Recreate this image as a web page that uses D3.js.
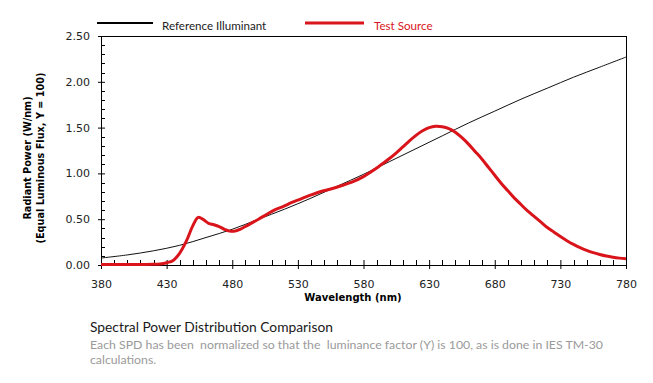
<!DOCTYPE html>
<html>
<head>
<meta charset="utf-8">
<script src="https://cdn.jsdelivr.net/npm/d3@7"></script>
<style>
  html, body { margin: 0; padding: 0; background: #fff; }
  svg { display: block; }
</style>
</head>
<body>
<div id="chart"></div>
<script>
  // reference illuminant
  const refWl  = [380, 400, 420, 440, 460, 480, 500, 520, 540, 560, 580, 600, 620, 640, 660, 680, 700, 720, 740, 760, 780];
  const refVal = [0.076, 0.11, 0.155, 0.215, 0.30, 0.39, 0.50, 0.61, 0.73, 0.86, 0.99, 1.13, 1.27, 1.41, 1.55, 1.68, 1.81, 1.93, 2.05, 2.16, 2.27];

  // test source
  const testWl  = [380, 400, 420, 425, 430, 435, 440, 445, 450, 454, 458, 462, 466, 470, 474, 478, 482, 486, 490, 495,
                   500, 506, 512, 519, 525, 532, 540, 547, 555, 563, 572, 580, 585, 590, 595, 600, 605, 610, 615, 620,
                   625, 630, 635, 640, 645, 650, 655, 660, 665, 670, 675, 680, 685, 690, 695, 700, 705, 710, 715, 720,
                   725, 730, 735, 740, 745, 750, 755, 760, 765, 770, 775, 780];
  const testVal = [0.005, 0.005, 0.008, 0.012, 0.025, 0.05, 0.13, 0.26, 0.43, 0.52, 0.495, 0.455, 0.44, 0.42, 0.39, 0.37, 0.37, 0.39, 0.42, 0.46,
                   0.50, 0.55, 0.60, 0.64, 0.68, 0.72, 0.765, 0.80, 0.83, 0.865, 0.91, 0.965, 1.01, 1.06, 1.11, 1.165, 1.225, 1.29, 1.355, 1.415,
                   1.465, 1.50, 1.515, 1.51, 1.49, 1.45, 1.39, 1.32, 1.24, 1.16, 1.07, 0.98, 0.89, 0.81, 0.73, 0.66, 0.59, 0.53, 0.47, 0.41,
                   0.36, 0.31, 0.265, 0.225, 0.19, 0.16, 0.135, 0.115, 0.098, 0.085, 0.075, 0.068];

  const xTicks = [380, 430, 480, 530, 580, 630, 680, 730, 780];
  const yTicks = [0, 0.5, 1, 1.5, 2, 2.5];
  const seriesNames = ["Reference Illuminant", "Test Source"];
  const captionTitle = "Spectral Power Distribution Comparison";
  const captionLines = ["Each SPD has been  normalized so that the  luminance factor (Y) is 100, as is done in IES TM-30", "calculations."];

  const W = 653, H = 383;
  const red = "#d9141b";
  const tickFont = "'DejaVu Sans', Verdana, sans-serif";
  const textFont = "Lato, 'Liberation Sans', sans-serif";

  const svg = d3.select("#chart").append("svg").attr("width", W).attr("height", H);

  const x = d3.scaleLinear().domain([380, 780]).range([101, 626]);
  const y = d3.scaleLinear().domain([0, 2.5]).range([265, 36]);

  // frame
  svg.append("rect")
    .attr("x", x(380)).attr("y", y(2.5))
    .attr("width", x(780) - x(380)).attr("height", y(0) - y(2.5))
    .attr("fill", "none").attr("stroke", "#000").attr("stroke-width", 1)
    .attr("shape-rendering", "crispEdges");

  // minor ticks (inside)
  const xMinor = d3.range(390, 780, 10).filter(v => !xTicks.includes(v));
  const yMinor = d3.range(0.1, 2.5, 0.1).filter(v => Math.abs(v * 2 - Math.round(v * 2)) > 1e-6);

  svg.append("g").selectAll("line").data(xMinor).join("line")
    .attr("x1", d => Math.round(x(d)) + 0.5).attr("x2", d => Math.round(x(d)) + 0.5)
    .attr("y1", y(0)).attr("y2", y(0) - 5)
    .attr("stroke", "#000");
  svg.append("g").selectAll("line").data(yMinor).join("line")
    .attr("x1", x(380)).attr("x2", x(380) + 4)
    .attr("y1", d => Math.round(y(d)) + 0.5).attr("y2", d => Math.round(y(d)) + 0.5)
    .attr("stroke", "#000");

  // major axes
  const xAxis = svg.append("g")
    .attr("transform", `translate(0,${y(0)})`)
    .call(d3.axisBottom(x).tickValues(xTicks).tickFormat(d3.format("d")).tickSize(4).tickPadding(11));
  xAxis.select(".domain").remove();
  xAxis.selectAll(".tick line").attr("y1", -5);
  xAxis.selectAll("text").attr("font-family", tickFont).attr("font-size", 11).attr("fill", "#222");

  const yAxis = svg.append("g")
    .attr("transform", `translate(${x(380)},0)`)
    .call(d3.axisLeft(y).tickValues(yTicks).tickFormat(d3.format(".2f")).tickSize(3).tickPadding(8));
  yAxis.select(".domain").remove();
  yAxis.selectAll(".tick line").attr("x1", 4);
  yAxis.selectAll("text").attr("font-family", tickFont).attr("font-size", 11).attr("fill", "#222");

  // curves
  const line = d3.line().x(d => x(d[0])).y(d => y(d[1])).curve(d3.curveCatmullRom.alpha(0.5));

  svg.append("path")
    .datum(refWl.map((w, i) => [w, refVal[i]]))
    .attr("d", line)
    .attr("fill", "none").attr("stroke", "#111").attr("stroke-width", 1);

  svg.append("path")
    .datum(testWl.map((w, i) => [w, testVal[i]]))
    .attr("d", line)
    .attr("fill", "none").attr("stroke", red).attr("stroke-width", 3)
    .attr("stroke-linejoin", "round");

  // axis titles
  svg.append("text")
    .attr("x", 353).attr("y", 301)
    .attr("text-anchor", "middle")
    .attr("font-family", tickFont).attr("font-size", 10).attr("font-weight", "bold")
    .text("Wavelength (nm)");

  const yTitle = svg.append("g").attr("transform", "translate(0,158) rotate(-90)")
    .attr("font-family", tickFont).attr("font-size", 9.7).attr("font-weight", "bold")
    .attr("text-anchor", "middle");
  yTitle.append("text").attr("x", 0).attr("y", 30.5).text("Radiant  Power (W/nm)");
  yTitle.append("text").attr("x", 0).attr("y", 43.5).text("(Equal Luminous Flux, Y = 100)");

  // legend
  const legend = svg.append("g");
  legend.append("line").attr("x1", 97).attr("x2", 153).attr("y1", 23).attr("y2", 23)
    .attr("stroke", "#000").attr("stroke-width", 2);
  legend.append("text").attr("x", 162).attr("y", 29.5)
    .attr("font-family", textFont).attr("font-size", 11.6).attr("fill", "#222")
    .text(seriesNames[0]);
  legend.append("line").attr("x1", 305).attr("x2", 364).attr("y1", 23).attr("y2", 23)
    .attr("stroke", red).attr("stroke-width", 3);
  legend.append("text").attr("x", 374).attr("y", 29.5)
    .attr("font-family", textFont).attr("font-size", 11.6).attr("fill", red)
    .text(seriesNames[1]);

  // caption
  svg.append("text").attr("x", 90).attr("y", 332)
    .attr("font-family", textFont).attr("font-size", 13.8).attr("fill", "#1a1a1a")
    .text(captionTitle);
  svg.selectAll(".cap").data(captionLines).join("text")
    .attr("class", "cap")
    .attr("x", 90).attr("y", (d, i) => 349 + i * 15)
    .attr("font-family", textFont).attr("font-size", 12.3).attr("fill", "#9a9a9a")
    .attr("xml:space", "preserve")
    .style("white-space", "pre")
    .text(d => d);
</script>
</body>
</html>
